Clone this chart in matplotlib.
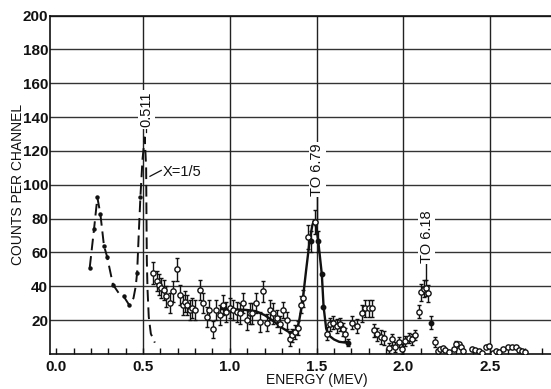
import matplotlib.pyplot as plt
import numpy as np

# counts per channel vs energy, old scanned spectrum

# dashed curve (annihilation region, scaled X=1/5)
dash_x = [0.193, 0.218, 0.237, 0.254, 0.275, 0.293, 0.327, 0.36, 0.389, 0.42, 0.445, 0.458,
          0.466, 0.475, 0.485, 0.497, 0.51, 0.518, 0.52, 0.522, 0.526, 0.533, 0.545, 0.568]
dash_y = [51, 74, 92.5, 83, 64, 57.5, 41, 36, 34, 29, 33, 40,
          48, 70, 93, 115, 128, 110, 80, 55, 38, 22, 12, 6.7]
# small dots sitting on the dashed curve
dot_x = [0.193, 0.218, 0.237, 0.254, 0.275, 0.293, 0.327, 0.389, 0.42, 0.466, 0.481]
dot_y = [51, 74, 92.5, 83, 64, 57.5, 41, 34, 29, 48, 93]

# open circles with error bars
pts_x = [0.558, 0.578, 0.593, 0.606, 0.622, 0.635, 0.654, 0.673, 0.693, 0.712, 0.728, 0.741,
         0.756, 0.770, 0.783, 0.799, 0.827, 0.847, 0.866, 0.881, 0.901, 0.920, 0.943, 0.962,
         0.980, 1.000, 1.020, 1.040, 1.060, 1.077, 1.097, 1.116, 1.130, 1.150, 1.174, 1.193,
         1.212, 1.230, 1.250, 1.270, 1.290, 1.308, 1.328, 1.347, 1.360, 1.376, 1.395, 1.410,
         1.423, 1.452, 1.490, 1.558, 1.577, 1.597, 1.616, 1.635, 1.654, 1.664, 1.703, 1.732,
         1.761, 1.780, 1.800, 1.820, 1.833, 1.850, 1.870, 1.890, 1.914, 1.934, 1.953, 1.972,
         1.991, 2.010, 2.030, 2.050, 2.068, 2.087, 2.102, 2.117, 2.130, 2.143, 2.184, 2.305]
pts_y = [48, 43, 41, 39, 38, 34, 30, 37, 50, 35, 29, 31,
         29, 26, 27, 26, 38, 30, 22, 26, 14.5, 26, 23, 29,
         25, 27, 26, 25, 24, 30, 20, 24, 24, 30, 19, 37,
         18.5, 26, 24, 21, 17.5, 26, 20, 8.6, 11, 13, 15.5, 29,
         33, 69, 78, 12, 17.5, 18.5, 16.5, 17.5, 14.5, 11.6, 18.5, 16.5,
         24, 27, 27, 27, 14, 11.6, 10, 9.6, 3.7, 8.6, 4.3, 7,
         2.8, 7.6, 9.6, 8.6, 11, 25, 36.5, 38.6, 39, 36, 7, 5.7]
pts_err = [6.5, 6, 6, 6, 6, 6, 6, 6, 7, 6, 6, 6,
           6, 6, 6, 6, 6, 6, 6, 6, 5, 6, 6, 6,
           6, 6, 6, 6, 6, 6, 6, 6, 6, 6, 6, 6,
           5, 6, 6, 5, 5, 5, 5, 4, 4, 4, 4, 5,
           5, 7, 7, 4, 4, 4, 4, 4, 4, 4, 4, 4,
           5, 5, 5, 5, 4, 4, 4, 4, 3, 3, 3, 3,
           3, 3, 3, 3, 3, 4, 5, 5, 5, 5, 3, 2]

# filled points
fill_x = [1.466, 1.510, 1.530, 1.539, 1.683, 2.160]
fill_y = [66.5, 66.5, 47, 28, 6.7, 18.5]
fill_err = [6, 6, 0, 0, 2, 4]

# tail, open circles without error bars
tail_x = [2.197, 2.212, 2.228, 2.241, 2.26, 2.293, 2.318, 2.332, 2.343, 2.395, 2.414, 2.433,
          2.453, 2.478, 2.495, 2.514, 2.535, 2.553, 2.574, 2.6, 2.626, 2.651, 2.664, 2.684, 2.703]
tail_y = [1.8, 3.1, 3.7, 2.4, 1.2, 2.8, 5.7, 4.1, 1.8, 2.8, 2.4, 1.8,
          0.8, 4.3, 4.7, 0.8, 1.8, 1.2, 3.1, 4.3, 4.3, 4.3, 2.2, 1.8, 1.4]

# solid fitted curve
solid_x = [0.95, 1.0, 1.05, 1.1, 1.15, 1.2, 1.25, 1.3, 1.34, 1.37, 1.39, 1.40, 1.42, 1.44,
           1.46, 1.475, 1.485, 1.50, 1.51, 1.53, 1.54, 1.555, 1.57, 1.60, 1.63, 1.66, 1.685]
solid_y = [26.5, 26.5, 26.3, 26, 25.3, 23, 19.5, 15.5, 13, 13, 15.5, 20, 32, 50,
           67, 76, 79, 74, 66, 47, 28, 15, 11, 8.6, 7.2, 6.8, 6.7]

xticks = [0.0, 0.5, 1.0, 1.5, 2.0, 2.5]
xticklabels = ['0.0', '0.5', '1.0', '1.5', '2.0', '2.5']
yticks = [20, 40, 60, 80, 100, 120, 140, 160, 180, 200]

plt.rcParams['font.family'] = ['Liberation Sans', 'DejaVu Sans']

fig = plt.figure(figsize=(5.51, 3.89), dpi=100)
ax = fig.add_axes([0.091, 0.09, 0.909, 0.87])

ink = '#111111'

# grid by hand so it looks like the printed paper
for yv in yticks:
    ax.axhline(yv, color='#333333', lw=1.0, zorder=0)
for xv in xticks[1:]:
    ax.axvline(xv, color='#222222', lw=1.0, zorder=0)

ax.plot(dash_x, dash_y, color=ink, lw=1.4, dashes=(6, 3))
ax.plot(dot_x, dot_y, 'o', color=ink, ms=2.2)
ax.plot(solid_x, solid_y, color=ink, lw=1.7)

ax.errorbar(pts_x, pts_y, yerr=pts_err, fmt='o', mfc='white', mec=ink, ecolor=ink,
            ms=3.8, mew=1.0, elinewidth=1.0, capsize=1.5, capthick=1.0, zorder=3)
ax.errorbar(fill_x, fill_y, yerr=fill_err, fmt='o', mfc=ink, mec=ink, ecolor=ink,
            ms=3.2, elinewidth=1.0, capsize=1.5, capthick=1.0, zorder=3)
ax.plot(tail_x, tail_y, 'o', mfc='white', mec=ink, ms=3.8, mew=1.0, zorder=3)

# labels on the peaks (white box breaks the grid line like in the print)
box = dict(fc='white', ec='none', pad=1.0)
ax.text(0.518, 144.5, '0.511', rotation=90, ha='center', va='center', fontsize=10.5,
        color=ink, bbox=box, zorder=4)
ax.plot([0.515, 0.515], [131, 135], color=ink, lw=0.9)
ax.text(0.612, 107.5, 'X=1/5', ha='left', va='center', fontsize=10.5, color=ink)
ax.plot([0.54, 0.605], [105, 108.5], color=ink, lw=0.9)
ax.text(1.505, 109, 'TO 6.79', rotation=90, ha='center', va='center', fontsize=10.5,
        color=ink, bbox=box, zorder=4)
ax.plot([1.5, 1.5], [80, 94], color=ink, lw=1.0)
ax.text(2.135, 69.5, 'TO 6.18', rotation=90, ha='center', va='center', fontsize=10.5,
        color=ink, bbox=box, zorder=4)
ax.plot([2.13, 2.13], [43, 54], color=ink, lw=1.0)

ax.set_xlim(-0.035, 2.85)
ax.set_ylim(0, 200)
ax.set_xticks(xticks)
ax.set_xticklabels(xticklabels, fontweight='bold')
ax.set_xticks(np.arange(0.0, 2.85, 0.1), minor=True)
ax.set_yticks(yticks)
ax.set_yticklabels([str(v) for v in yticks], fontweight='bold')
ax.tick_params(axis='x', which='both', direction='in', length=4, width=1.0, pad=4,
               labelsize=11, colors=ink)
ax.tick_params(axis='y', length=0, pad=1.5, labelsize=11, colors=ink)

ax.spines['right'].set_visible(False)
for s in ['left', 'bottom', 'top']:
    ax.spines[s].set_color(ink)
    ax.spines[s].set_linewidth(1.2)

ax.text(0.533, -0.078, 'ENERGY (MEV)', transform=ax.transAxes, ha='center', va='center',
        fontsize=10, color=ink)
ax.text(-0.064, 0.5, 'COUNTS PER CHANNEL', transform=ax.transAxes, rotation=90,
        ha='center', va='center', fontsize=10, color=ink)

fig.savefig('out.png', dpi=100)
